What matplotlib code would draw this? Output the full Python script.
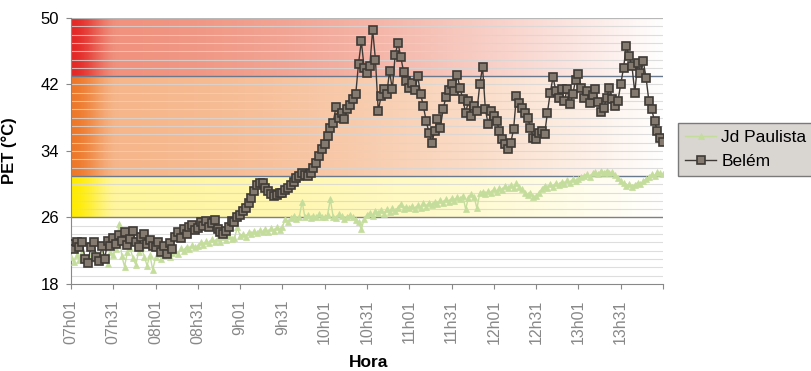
import numpy as np
import matplotlib.pyplot as plt

plt.rcParams['font.family'] = ['Liberation Sans', 'DejaVu Sans']

# time axis: minutes after 07h01, one reading every 2 minutes
minutes = np.arange(0, 421, 2)
tick_minutes = np.arange(0, 391, 30)
tick_labels = ['07h01', '07h31', '08h01', '08h31', '9h01', '9h31', '10h01',
               '10h31', '11h01', '11h31', '12h01', '12h31', '13h01', '13h31']

# PET (°C), one row per half hour
belem = [
    22.8, 22.2, 23.1, 22.5, 23.0, 21.0, 20.5, 22.4, 23.0, 21.2, 20.8, 22.6, 21.0, 23.2, 22.6,
    23.5, 22.8, 23.9, 23.2, 24.2, 22.7, 23.4, 24.4, 23.0, 22.5, 23.6, 24.0, 22.8, 23.3, 22.6,
    22.4, 23.1, 21.8, 22.6, 21.6, 22.9, 22.2, 23.6, 24.2, 23.5, 24.6, 24.0, 24.8, 25.1, 24.5,
    24.7, 25.4, 25.0, 25.6, 24.9, 25.3, 25.7, 24.6, 24.3, 24.0, 24.4, 24.9, 25.6, 25.4, 26.0,
    26.3, 26.8, 27.2, 27.8, 28.4, 29.2, 29.9, 30.2, 30.1, 29.6, 29.2, 28.8, 28.6, 28.7, 28.9,
    29.0, 29.3, 29.6, 29.9, 30.3, 30.8, 31.0, 31.3, 31.1, 31.0, 31.4, 32.0, 32.6, 33.4, 34.2,
    34.8, 35.8, 36.8, 37.4, 39.3, 38.0, 38.6, 37.9, 39.0, 39.5, 40.2, 40.8, 44.5, 47.2, 44.0,
    43.4, 44.2, 48.6, 45.0, 38.8, 40.6, 41.5, 40.8, 43.6, 41.4, 45.6, 47.0, 45.3, 43.5, 42.4,
    41.6, 42.2, 41.3, 43.0, 40.9, 39.4, 37.6, 36.2, 35.0, 36.4, 37.8, 36.8, 39.0, 40.5, 41.3,
    42.0, 41.2, 43.1, 41.6, 40.2, 38.6, 40.0, 38.2, 39.4, 38.8, 42.0, 44.1, 39.0, 37.2, 38.8,
    38.2, 37.6, 36.4, 35.4, 34.8, 34.2, 35.0, 36.6, 40.6, 39.8, 39.2, 38.6, 38.0, 36.8, 35.6,
    35.4, 36.2, 36.4, 36.0, 38.6, 41.0, 42.9, 41.2, 40.4, 41.5, 40.0, 41.4, 39.6, 40.8, 42.6,
    43.3, 41.6, 40.4, 41.2, 39.8, 40.7, 41.4, 39.9, 38.7, 39.2, 40.4, 41.6, 40.2, 39.4, 40.0,
    42.0, 44.0, 46.6, 45.4, 44.2, 41.0, 44.6, 43.4, 44.8, 42.8, 40.0, 39.0, 37.6, 36.4, 35.6,
    35.1,
]
jd_paulista = [
    21.2, 20.6, 21.5, 20.9, 21.8, 21.1, 20.5, 21.4, 22.0, 21.0, 20.7, 21.6, 21.2, 20.4, 21.8,
    21.5, 22.2, 25.2, 21.4, 20.1, 21.8, 22.3, 21.1, 20.3, 21.9, 22.4, 21.3, 20.2, 21.5, 19.7,
    21.2, 21.6, 21.0, 21.4, 21.8, 21.3, 21.7, 22.0, 21.6, 22.3, 22.0, 22.5, 22.2, 22.7, 22.4,
    22.6, 23.0, 22.7, 23.2, 22.9, 23.4, 23.1, 23.5, 23.0, 23.6, 23.3, 23.8, 23.4, 23.5, 24.8,
    23.8, 24.0, 23.7, 24.2, 24.0, 24.4, 24.1, 24.5, 24.2, 24.6, 24.3, 24.7, 24.4, 24.8, 24.5,
    24.9, 25.8, 25.4, 25.9, 26.2, 25.8, 26.1, 27.9, 26.0, 26.3, 25.9, 26.2, 26.0, 26.4, 26.1,
    26.0, 26.3, 28.2, 26.1, 25.9, 26.4, 26.2, 25.8, 26.1, 26.3, 26.0, 25.7, 25.4, 24.6, 25.8,
    26.3, 26.6, 26.2, 26.8, 26.5, 26.9, 26.4, 27.0, 26.7, 27.1, 26.8, 27.2, 27.6, 27.0, 27.3,
    27.1, 27.4, 27.0, 27.5, 27.2, 27.7, 27.3, 27.8, 27.5, 27.9, 27.6, 28.1, 27.8, 28.2, 27.9,
    28.3, 28.0, 28.5, 28.2, 28.6, 27.0, 28.4, 28.8, 28.5, 27.1, 28.9, 29.1, 28.8, 29.2, 29.0,
    29.4, 29.1, 29.6, 29.3, 29.8, 29.5, 29.9, 29.6, 30.1, 29.7, 29.4, 29.0, 28.7, 29.0, 28.5,
    28.6, 29.0, 29.4, 29.8, 29.6, 30.0, 29.7, 30.2, 29.9, 30.3, 30.0, 30.5, 30.2, 30.6, 30.4,
    30.6, 30.9, 31.0, 31.2, 30.9, 31.3, 31.5, 31.2, 31.6, 31.4, 31.6, 31.3, 31.5, 31.1, 30.8,
    30.4, 30.1, 29.8, 30.0, 29.7, 29.9, 30.2, 30.0, 30.4, 30.6, 30.9, 31.2, 31.0, 31.5, 31.3,
    31.2,
]

# thermal stress bands (PET limits)
band_limits = [26, 31, 43, 50]
band_colors = [((255, 236, 0), (255, 246, 160)),
               ((238, 120, 40), (246, 182, 138)),
               ((228, 40, 38), (240, 146, 126))]


def band_image(full, pastel, n=500):
    t = np.linspace(0, 1, n)
    full = np.array(full) / 255.0
    pastel = np.array(pastel) / 255.0
    a = np.clip(t / 0.08, 0, 1)
    a = a * a * (3 - 2 * a)
    col = full[None, :] * (1 - a[:, None]) + pastel[None, :] * a[:, None]
    w = np.clip((t - 0.08) / 0.92, 0, 1) ** 1.5
    col = col * (1 - w[:, None]) + w[:, None]
    return col[None, :, :]


fig = plt.figure(figsize=(8.11, 3.71), dpi=100)
ax = fig.add_axes([0.0875, 0.2345, 0.73, 0.717])

x0, x1 = 0, 420
for (lo, hi), (full, pastel) in zip(zip(band_limits[:-1], band_limits[1:]), band_colors):
    ax.imshow(band_image(full, pastel), extent=(x0, x1, lo, hi), aspect='auto',
              interpolation='bilinear', zorder=0)

# minor grid every degree
for v in range(19, 50):
    ax.axhline(v, color='#d6d6d6', lw=0.8, zorder=1, alpha=0.8)
ax.axhline(26, color='#808080', lw=1.0, zorder=2)
ax.axhline(31, color='#6a7a8e', lw=1.0, zorder=2)
ax.axhline(43, color='#6a7a8e', lw=1.0, zorder=2)
ax.axhline(50, color='#b8b8b8', lw=1.6, zorder=2)

ax.plot(minutes, jd_paulista, color='#c4dd9c', lw=1.0, marker='^', ms=5,
        mfc='#c4dd9c', mec='#c4dd9c', mew=0.5, label='Jd Paulista', zorder=3)
ax.plot(minutes, belem, color='#3f3a36', lw=1.0, marker='s', ms=5.4,
        mfc='#857a70', mec='#3f3a36', mew=1.2, label='Belém', zorder=4)

ax.set_xlim(x0, x1)
ax.set_ylim(18, 50)
ax.set_yticks([18, 26, 34, 42, 50])
ax.set_xticks(list(tick_minutes) + [x1])
ax.set_xticklabels(tick_labels + [''], rotation=90, color='#a6a6a6', fontsize=11.5)
ax.tick_params(axis='y', labelsize=12, colors='#888888', labelcolor='black',
               length=3.5, pad=5)
ax.tick_params(axis='x', colors='#888888', length=3.5, pad=8)
for s in ['top', 'right']:
    ax.spines[s].set_visible(False)
for s in ['left', 'bottom']:
    ax.spines[s].set_color('#888888')

ax.set_ylabel('PET (°C)', fontsize=12, fontweight='bold')
ax.yaxis.set_label_coords(-0.091, 0.5)
ax.set_xlabel('Hora', fontsize=12.5, fontweight='bold')
ax.xaxis.set_label_coords(0.503, -0.267)

handles, labels = ax.get_legend_handles_labels()
leg = fig.legend(handles, labels, loc='upper left', bbox_to_anchor=(678 / 811, 1 - 123 / 371),
                 fontsize=12.5, frameon=True, fancybox=False, borderaxespad=0,
                 handlelength=1.8, handletextpad=0.3, borderpad=0.4, labelspacing=0.5)
leg.get_frame().set_facecolor('#d9d6d2')
leg.get_frame().set_edgecolor('#7a7a7a')
leg.get_frame().set_alpha(1)

fig.savefig('out.png', dpi=100)
